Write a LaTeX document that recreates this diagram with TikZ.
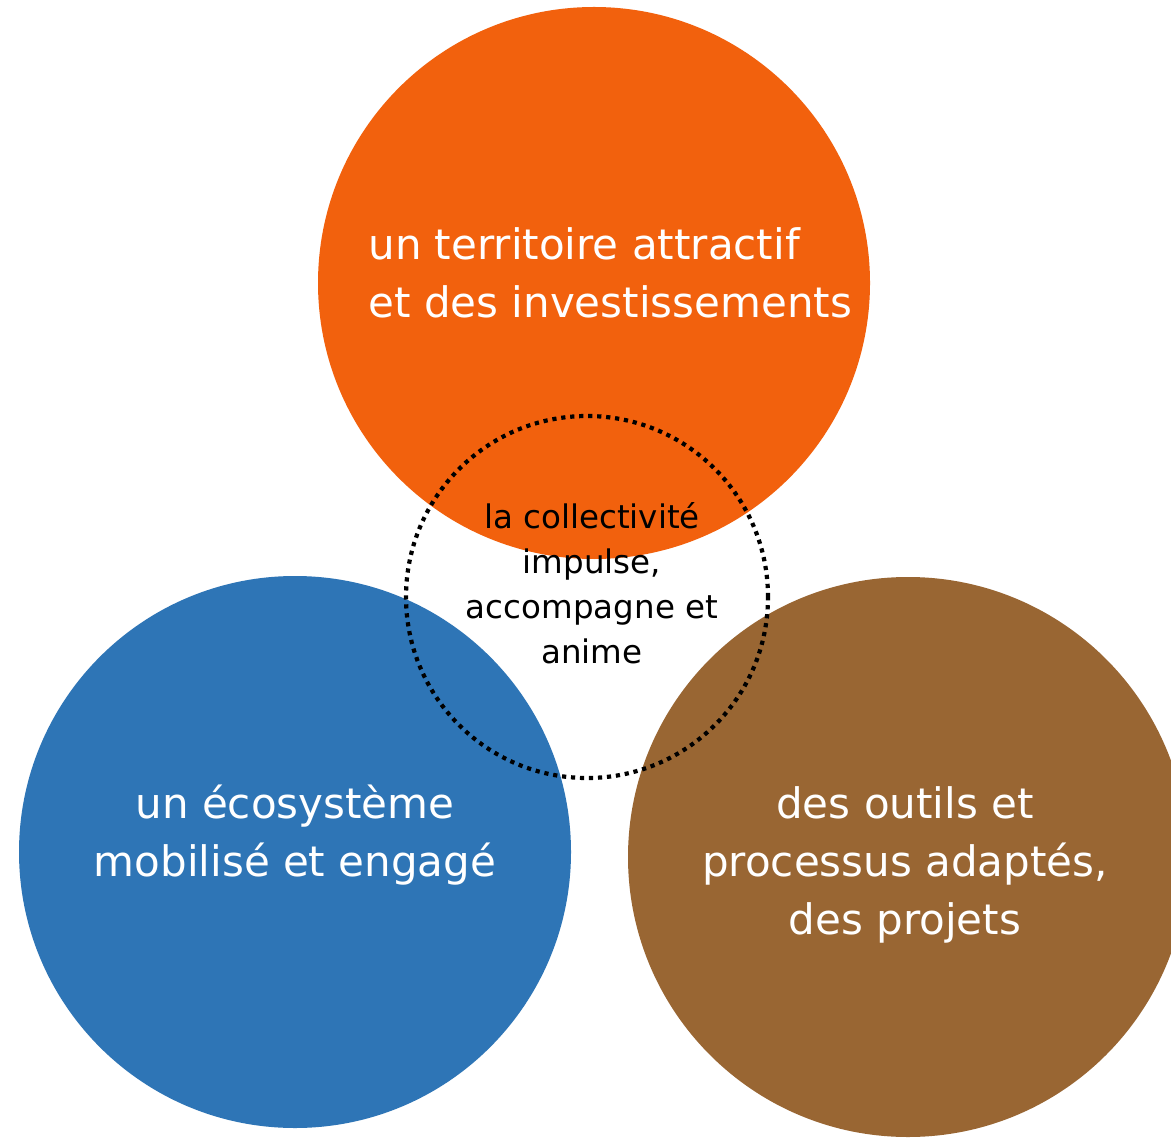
\documentclass[tikz,border=0pt]{standalone}
\usepackage{fontspec}
\setmainfont{DejaVu Sans}

\definecolor{orangeT}{RGB}{242,97,13}
\definecolor{bleuE}{RGB}{46,117,182}
\definecolor{brunO}{RGB}{153,102,51}

\begin{document}
\begin{tikzpicture}[x=0.5pt,y=-0.5pt,
    bulle/.style={circle,inner sep=0pt,draw=none},
    etiquette/.style={text=white,inner sep=0pt,font=\fontsize{21}{29}\selectfont}]
    \useasboundingbox (0,0) rectangle (1171,1138);
    \fill[white] (0,0) rectangle (1171,1138);
    \clip (0,0) rectangle (1171,1138);

    % les trois piliers
    \foreach \nom/\coul/\x/\y/\r in {territoire/orangeT/594/283/276,ecosysteme/bleuE/295/852/276,outils/brunO/908/857/280}
      \node[bulle,fill=\coul,minimum size=\r pt] (\nom) at (\x,\y) {};

    % le cercle central en pointillés
    \node[circle,draw,inner sep=0pt,line width=2.1pt,dash pattern=on 2.1pt off 2.4pt,minimum size=181pt] (collectivite) at (587,597) {};

    \node[etiquette,align=left,anchor=west] (txtTerritoire) at (368,273) {un territoire attractif\\et des investissements};
    \node[etiquette,align=center] (txtEcosysteme) at (295,835) {un écosystème\\mobilisé et engagé};
    \node[etiquette,align=center] (txtOutils) at (905,865) {des outils et\\processus adaptés,\\des projets};
    \node[align=center,inner sep=0pt,font=\fontsize{16.25}{22.5}\selectfont] (txtCollectivite) at (592,583)
      {la collectivité\\impulse,\\accompagne et\\anime};
  \end{tikzpicture}
\end{document}
